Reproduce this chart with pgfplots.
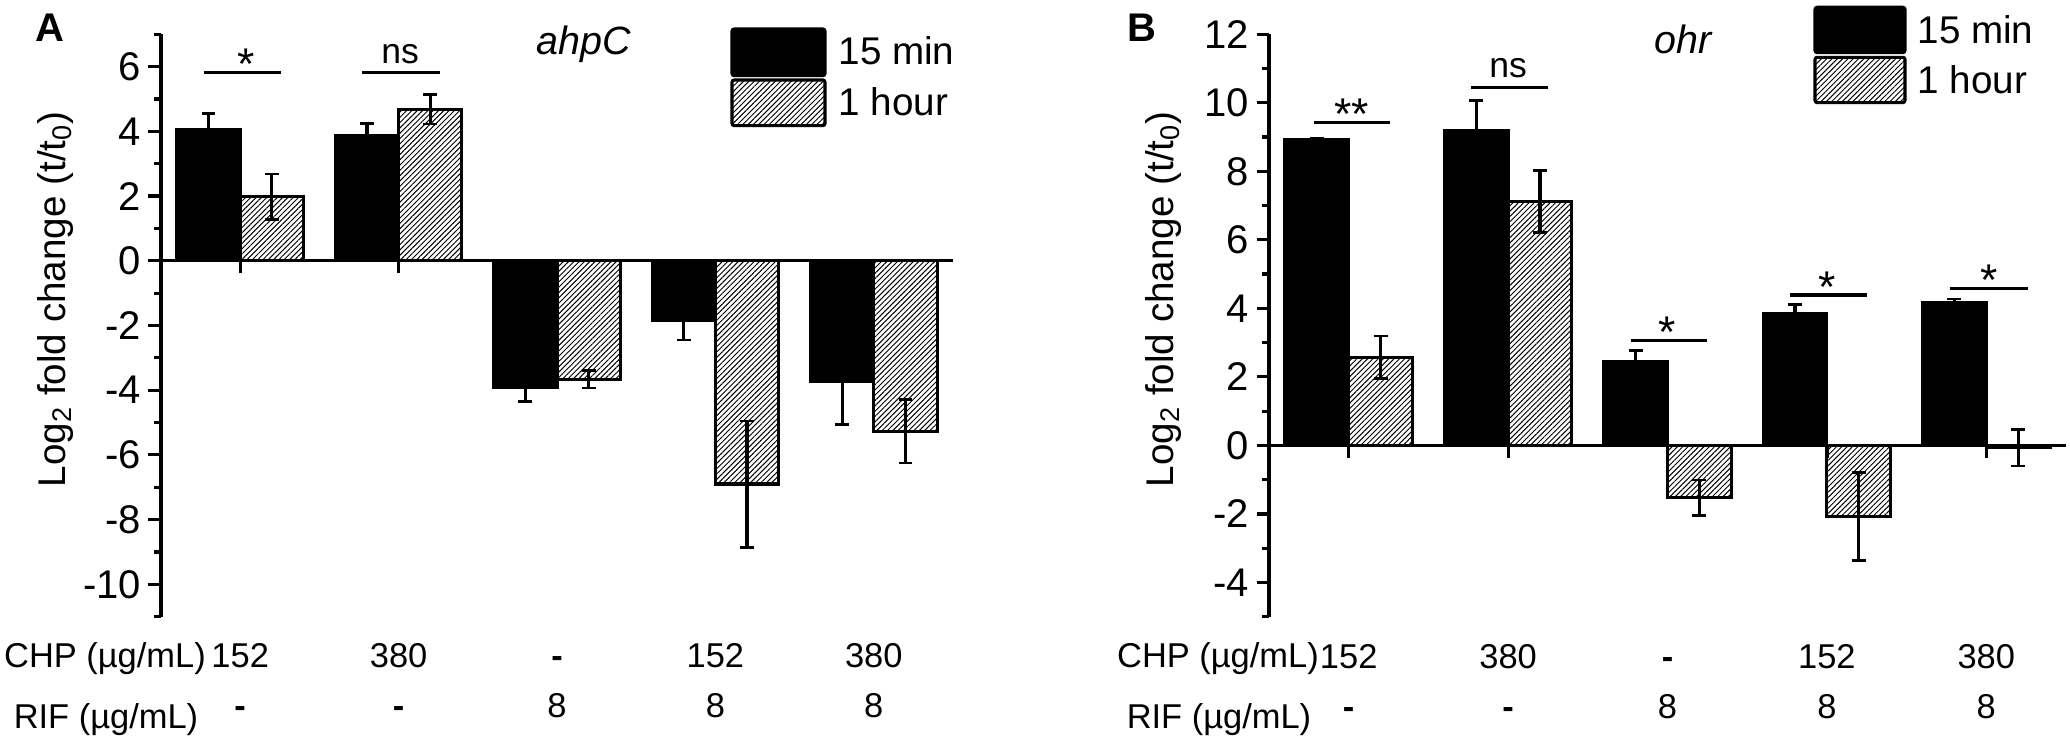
\documentclass[border=0pt]{standalone}
\usepackage{fontspec}
\setmainfont{Liberation Sans}
\usepackage{pgfplots}
\usepackage{pgfplotstable}
\pgfplotsset{compat=1.18}
\usetikzlibrary{patterns.meta}

\def\fTick{\fontsize{14.4pt}{17pt}\selectfont}
\def\fLab{\fontsize{13.9pt}{16pt}\selectfont}
\def\fCat{\fontsize{12.4pt}{15pt}\selectfont}
\def\fStar{\fontsize{16pt}{18pt}\selectfont}
\def\fNs{\fontsize{12.8pt}{15pt}\selectfont}
\def\fGene{\fontsize{14.2pt}{17pt}\selectfont}
\def\fPanel{\fontsize{14.4pt}{17pt}\selectfont}

\tikzset{hatch/.style={pattern={Lines[angle=45,distance=1.35pt,line width=0.35pt]}, pattern color=black}}

\pgfplotstableread{
x y e
0 4.06 0.48
1 3.86 0.39
2 -3.93 0.41
3 -1.83 0.62
4 -3.72 1.35
}\Ablack
\pgfplotstableread{
x y e
0 1.98 0.70
1 4.68 0.45
2 -3.66 0.27
3 -6.90 1.95
4 -5.27 0.98
}\Ahatch
\pgfplotstableread{
x y e
0 8.92 0.05
1 9.19 0.88
2 2.46 0.32
3 3.85 0.27
4 4.18 0.09
}\Bblack
\pgfplotstableread{
x y e
0 2.57 0.62
1 7.12 0.90
2 -1.53 0.52
3 -2.08 1.28
4 -0.07 0.53
}\Bhatch

\pgfplotsset{
  common/.style={
    scale only axis, anchor=south west,
    height=209.66pt,
    axis x line=middle, axis y line=left,
    axis line style={-, line width=1.15pt, black},
    xmin=-0.5, xmax=4.5, enlargelimits=false,
    xtick={0,1,2,3,4},
    xticklabels={152,380,\textbf{-},152,380},
    extra x ticks={0,1,2,3,4},
    extra x tick labels={\textbf{-},\textbf{-},8,8,8},
    extra x tick style={major tick length=0pt, xticklabel style={yshift=-22.6pt}},
    xticklabel style={font=\fCat, anchor=base, inner sep=0pt},
    tick align=outside,
    major tick length=4.5pt, minor tick length=2.4pt,
    tick style={line width=1.15pt, black},
    yticklabel style={font=\fTick, inner xsep=2.5pt},
    /pgf/number format/assume math mode=true,
    hide obscured x ticks=false, hide obscured y ticks=false,
    clip=false,
    ylabel={Log\textsubscript{2} fold change (t/t\textsubscript{0})},
    ylabel style={font=\fLab, at={(axis description cs:-0.12,0.545)}, anchor=base, inner sep=0pt},
  },
  blackbar/.style={ybar, bar width=0.4, bar shift=-0.2, fill=black, draw=black, line width=1.1pt, forget plot},
  hatchbar/.style={ybar, bar width=0.4, bar shift=0.2, hatch, draw=black, line width=1.1pt, forget plot},
  errplot/.style={draw=none, mark=none, forget plot,
    error bars/.cd, y dir=both, y explicit, error mark=-,
    error bar style={draw=black, line width=1.15pt, solid},
    error mark options={rotate=90, draw=black, line width=1.0pt, mark size=2.5pt, solid}},
}

\begin{document}
\begin{tikzpicture}
\path[use as bounding box] (0,0) rectangle (745.2pt,266.4pt);

% ---------- Panel A ----------
\begin{axis}[common, at={(57.96pt,44.39pt)}, width=285.12pt,
  ymin=-11, ymax=7, ytick={-10,-8,...,6}, minor ytick={-11,-9,...,7},
  xticklabel style={yshift=-142pt}]
\addplot[blackbar] table[x=x, y=y] {\Ablack};
\addplot[hatchbar] table[x=x, y=y] {\Ahatch};
\addplot[errplot] table[x expr=\thisrow{x}-0.2, y=y, y error=e] {\Ablack};
\addplot[errplot] table[x expr=\thisrow{x}+0.2, y=y, y error=e] {\Ahatch};
\draw[line width=1.15pt] (axis cs:-0.23,5.82) -- (axis cs:0.26,5.82);
\node[anchor=base, inner sep=0pt, font=\fStar, yshift=-2.6pt] at (axis cs:0.04,5.82) {*};
\draw[line width=1.15pt] (axis cs:0.77,5.82) -- (axis cs:1.26,5.82);
\node[anchor=base, inner sep=0pt, font=\fNs, yshift=3.4pt] at (axis cs:1.01,5.82) {ns};
\end{axis}

% ---------- Panel B ----------
\begin{axis}[common, at={(456.84pt,44.39pt)}, width=286.92pt,
  ymin=-5, ymax=12, ytick={-4,-2,...,12}, minor ytick={-5,-3,...,11},
  xticklabel style={yshift=-75.8pt}]
\addplot[blackbar] table[x=x, y=y] {\Bblack};
\addplot[hatchbar] table[x=x, y=y] {\Bhatch};
\addplot[errplot] table[x expr=\thisrow{x}-0.2, y=y, y error=e] {\Bblack};
\addplot[errplot] table[x expr=\thisrow{x}+0.2, y=y, y error=e] {\Bhatch};
\draw[line width=1.15pt] (axis cs:-0.22,9.42) -- (axis cs:0.26,9.42);
\node[anchor=base, inner sep=0pt, font=\fStar, yshift=-2.6pt] at (axis cs:0.02,9.42) {**};
\draw[line width=1.15pt] (axis cs:0.77,10.45) -- (axis cs:1.25,10.45);
\node[anchor=base, inner sep=0pt, font=\fNs, yshift=3.4pt] at (axis cs:1.0,10.45) {ns};
\draw[line width=1.15pt] (axis cs:1.77,3.07) -- (axis cs:2.25,3.07);
\node[anchor=base, inner sep=0pt, font=\fStar, yshift=-2.6pt] at (axis cs:2.0,3.07) {*};
\draw[line width=1.15pt] (axis cs:2.77,4.39) -- (axis cs:3.25,4.39);
\node[anchor=base, inner sep=0pt, font=\fStar, yshift=-2.6pt] at (axis cs:3.0,4.39) {*};
\draw[line width=1.15pt] (axis cs:3.77,4.58) -- (axis cs:4.26,4.58);
\node[anchor=base, inner sep=0pt, font=\fStar, yshift=-2.6pt] at (axis cs:4.02,4.58) {*};
\end{axis}

% ---------- labels and legends (pixel coordinates, origin top-left) ----------
\begin{scope}[x=0.36pt, y=-0.36pt, yshift=266.4pt]
  \node[anchor=base, inner sep=0pt, font=\fPanel\bfseries] at (50,41.7) {A};
  \node[anchor=base, inner sep=0pt, font=\fPanel\bfseries] at (1142,42) {B};
  \node[anchor=base, inner sep=0pt, font=\fGene\itshape] at (584,55) {ahpC};
  \node[anchor=base, inner sep=0pt, font=\fGene\itshape] at (1683,53.3) {ohr};
  % row labels
  \node[anchor=base, inner sep=0pt, font=\fCat] at (105,668) {CHP (µg/mL)};
  \node[anchor=base, inner sep=0pt, font=\fCat] at (106,729) {RIF (µg/mL)};
  \node[anchor=base, inner sep=0pt, font=\fCat] at (1218,668) {CHP (µg/mL)};
  \node[anchor=base, inner sep=0pt, font=\fCat] at (1219,729) {RIF (µg/mL)};
  % legend A
  \draw[fill=black, line width=1.1pt, rounded corners=0.8pt] (732,29) rectangle (825,75.7);
  \draw[hatch, line width=1.1pt, rounded corners=0.8pt] (732,80) rectangle (825,125.7);
  \node[anchor=base west, inner sep=0pt, font=\fLab] at (838,65) {15 min};
  \node[anchor=base west, inner sep=0pt, font=\fLab] at (838,116) {1 hour};
  % legend B
  \draw[fill=black, line width=1.1pt, rounded corners=0.8pt] (1815,7.3) rectangle (1905,52.7);
  \draw[hatch, line width=1.1pt, rounded corners=0.8pt] (1815,57.3) rectangle (1905,102.7);
  \node[anchor=base west, inner sep=0pt, font=\fLab] at (1917,43.3) {15 min};
  \node[anchor=base west, inner sep=0pt, font=\fLab] at (1917,93.3) {1 hour};
\end{scope}
\end{tikzpicture}
\end{document}
